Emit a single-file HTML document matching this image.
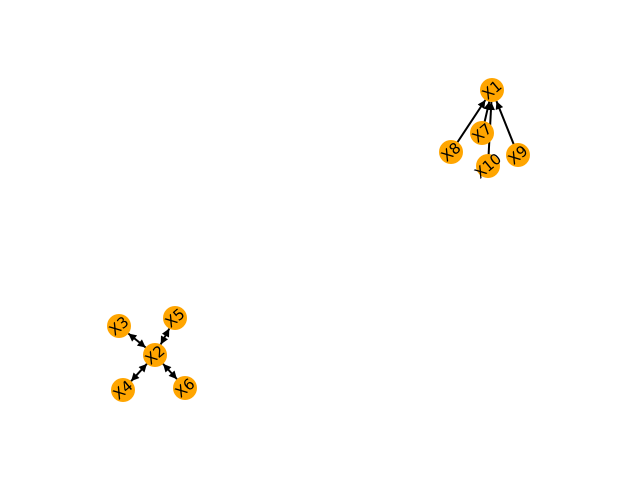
<!DOCTYPE html>
<html><head><meta charset="utf-8"><style>body{margin:0;background:#fff}svg{display:block}</style></head>
<body>
<svg id="g" width="640" height="480" xmlns="http://www.w3.org/2000/svg">
<defs><marker id="ah" viewBox="0 0 10 10" refX="10" refY="5" markerWidth="5" markerHeight="4" orient="auto-start-reverse"><path d="M0,0L10,5L0,10z" fill="#000"/></marker></defs>
<g id="edges"></g><g id="nodes"></g>
</svg>
<script>
const nodeNames=["X1","X7","X8","X10","X9","X2","X3","X5","X4","X6"];
const nodeX=[492,482,451,488,518,155,119,175,123,185];
const nodeY=[90,133,152,166,155,355,326,318,390,388];
const edgeFrom=["X7","X8","X10","X9","X2","X2","X2","X2"];
const edgeTo=["X1","X1","X1","X1","X3","X5","X4","X6"];
const edgeBoth=[false,false,false,false,true,true,true,true];
const NS="http://www.w3.org/2000/svg",R=12;
const eg=document.getElementById('edges'),ng=document.getElementById('nodes');
function pos(n){const i=nodeNames.indexOf(n);return [nodeX[i],nodeY[i]];}
edgeFrom.forEach((f,k)=>{
 const [x1,y1]=pos(f),[x2,y2]=pos(edgeTo[k]);
 const dx=x2-x1,dy=y2-y1,d=Math.hypot(dx,dy),ux=dx/d,uy=dy/d;
 const l=document.createElementNS(NS,'line');
 const s=edgeBoth[k]?R:0;
 l.setAttribute('x1',x1+ux*s);l.setAttribute('y1',y1+uy*s);
 l.setAttribute('x2',x2-ux*R);l.setAttribute('y2',y2-uy*R);
 l.setAttribute('stroke','#000');l.setAttribute('stroke-width','2');
 l.setAttribute('marker-end','url(#ah)');
 if(edgeBoth[k])l.setAttribute('marker-start','url(#ah)');
 
 
 eg.appendChild(l);
});
nodeNames.forEach((n,i)=>{
 const c=document.createElementNS(NS,'circle');
 c.setAttribute('cx',nodeX[i]);c.setAttribute('cy',nodeY[i]);c.setAttribute('r',R);c.setAttribute('fill','#ffa500');
 
 
 ng.appendChild(c);
 const t=document.createElementNS(NS,'text');
 t.setAttribute('x',nodeX[i]);t.setAttribute('y',nodeY[i]);
 t.setAttribute('text-anchor','middle');t.setAttribute('dominant-baseline','central');
 t.setAttribute('font-family','DejaVu Sans, Liberation Sans, sans-serif');t.setAttribute('font-size','15');
 t.setAttribute('transform','rotate(-40 '+nodeX[i]+' '+nodeY[i]+')');
 t.textContent=n;
 
 
 ng.appendChild(t);
});
</script>
</body></html>
